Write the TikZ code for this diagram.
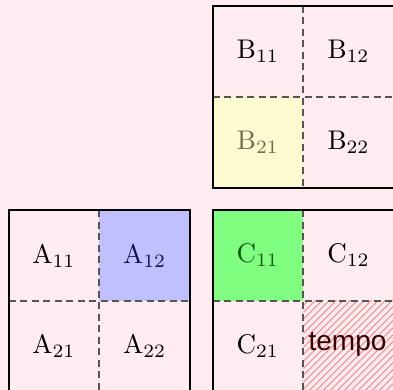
\documentclass[tikz,border=0pt]{standalone}
\usepackage{fontspec}
\newfontfamily\tempofont{Liberation Sans}
\definecolor{bgpink}{RGB}{255,236,240}
\definecolor{fillyellow}{RGB}{255,251,208}
\definecolor{fillblue}{RGB}{192,192,255}
\definecolor{fillgreen}{RGB}{128,255,128}
\definecolor{txtyellow}{RGB}{112,108,82}
\definecolor{txtblue}{RGB}{16,16,92}
\definecolor{txtgreen}{RGB}{12,92,12}
\definecolor{txtred}{RGB}{58,0,0}
\definecolor{dashgray}{RGB}{85,85,85}
\newcommand{\cellmath}[1]{\scalebox{2.7}{$\mathrm{#1}$}}
\tikzset{
  celltext/.style={inner sep=0pt, font=\fontsize{10}{12}\selectfont},
  tempotext/.style={inner sep=0pt, font=\tempofont\fontsize{28}{32}\selectfont, text=txtred},
  border/.style={draw=black, line width=2pt},
  divider/.style={draw=dashgray, line width=1.7pt, dash pattern=on 7pt off 4.5pt},
  hatch/.style={draw=red!50, line width=1pt}
}
\begin{document}
\begin{tikzpicture}[x=1pt,y=-1pt]
\useasboundingbox[fill=bgpink] (0,0) rectangle (393,390);
\begin{scope}
\clip (0,0) rectangle (393,390);
% fills
\fill[fillyellow] (212.5,96.75) rectangle (303.25,187.5);
\fill[fillblue] (99.25,210) rectangle (190,300.75);
\fill[fillgreen] (212.5,210) rectangle (303.25,300.75);
% hatch
\begin{scope}
\clip (303.25,300.75) rectangle (394,391.5);
\foreach \i in {-100,-93,...,100}
  \draw[hatch] (348.6+\i-100,346.1+100) -- (348.6+\i+100,346.1-100);
\end{scope}
% nodes
\node[celltext] (b11) at (257.9,51.4) {\cellmath{B_{11}}};
\node[celltext] (b12) at (348.6,51.4) {\cellmath{B_{12}}};
\node[celltext, text=txtyellow] (b21) at (257.9,142.1) {\cellmath{B_{21}}};
\node[celltext] (b22) at (348.6,142.1) {\cellmath{B_{22}}};
\node[celltext] (a11) at (53.9,255.4) {\cellmath{A_{11}}};
\node[celltext, text=txtblue] (a12) at (144.6,255.4) {\cellmath{A_{12}}};
\node[celltext] (a21) at (53.9,346.1) {\cellmath{A_{21}}};
\node[celltext] (a22) at (144.6,346.1) {\cellmath{A_{22}}};
\node[celltext, text=txtgreen] (c11) at (257.9,255.4) {\cellmath{C_{11}}};
\node[celltext] (c12) at (348.6,255.4) {\cellmath{C_{12}}};
\node[celltext] (c21) at (257.9,346.1) {\cellmath{C_{21}}};
\node[tempotext] (c22) at (347.5,344) {tempo};
% dividers
\draw[divider] (303.25,6) -- (303.25,187.5);
\draw[divider] (212.5,96.75) -- (394,96.75);
\draw[divider] (99.25,210) -- (99.25,391.5);
\draw[divider] (8.5,300.75) -- (190,300.75);
\draw[divider] (303.25,210) -- (303.25,391.5);
\draw[divider] (212.5,300.75) -- (394,300.75);
% borders
\draw[border] (212.5,6) rectangle (394,187.5);
\draw[border] (8.5,210) rectangle (190,391.5);
\draw[border] (212.5,210) rectangle (394,391.5);
\end{scope}
\end{tikzpicture}
\end{document}
